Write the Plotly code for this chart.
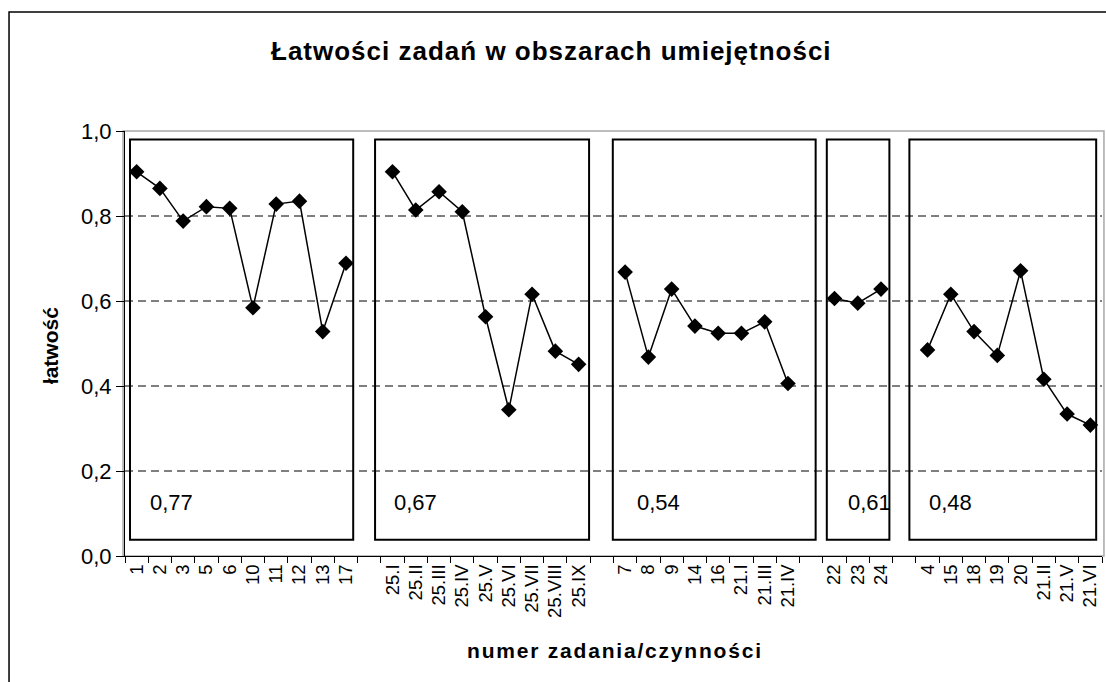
import plotly.graph_objects as go

# ---- data ----
group1_labels = ["1", "2", "3", "5", "6", "10", "11", "12", "13", "17"]
group1_values = [0.904, 0.865, 0.788, 0.822, 0.818, 0.584, 0.828, 0.835, 0.528, 0.689]

group2_labels = ["25.I", "25.II", "25.III", "25.IV", "25.V", "25.VI", "25.VII", "25.VIII", "25.IX"]
group2_values = [0.904, 0.814, 0.857, 0.810, 0.563, 0.344, 0.616, 0.482, 0.451]

group3_labels = ["7", "8", "9", "14", "16", "21.I", "21.III", "21.IV"]
group3_values = [0.668, 0.468, 0.628, 0.541, 0.524, 0.524, 0.551, 0.406]

group4_labels = ["22", "23", "24"]
group4_values = [0.606, 0.595, 0.628]

group5_labels = ["4", "15", "18", "19", "20", "21.II", "21.V", "21.VI"]
group5_values = [0.485, 0.616, 0.528, 0.472, 0.671, 0.416, 0.334, 0.308]

group_scores = [0.77, 0.67, 0.54, 0.61, 0.48]
grid_values = [0.2, 0.4, 0.6, 0.8]
y_ticks = [0.0, 0.2, 0.4, 0.6, 0.8, 1.0]

groups = [
    (group1_labels, group1_values),
    (group2_labels, group2_values),
    (group3_labels, group3_values),
    (group4_labels, group4_values),
    (group5_labels, group5_values),
]

# styling for the group frames (left/right padding in category units)
box_pads = [(0.285, 0.31), (0.75, 0.45), (0.53, 1.19), (0.33, 0.36), (0.78, 0.25)]
label_offsets = [0.78, 0.72, 0.96, 0.83, 0.75]

FONT = "Liberation Sans, Arial, sans-serif"

# build category axis with blank separator categories
xs, ys = [], []
spans = []
for gi, (labs, vals) in enumerate(groups):
    if gi > 0:
        xs.append(" " * gi)
        ys.append(None)
    start = len(xs)
    xs.extend(labs)
    ys.extend(vals)
    spans.append((start, len(xs) - 1))

fig = go.Figure()
fig.add_trace(go.Scatter(
    x=xs, y=ys, mode="lines+markers",
    connectgaps=False,
    line=dict(color="black", width=1.5),
    marker=dict(symbol="diamond", size=12, color="black"),
    showlegend=False, hoverinfo="skip",
))

shapes = []
# grid lines
for g in grid_values:
    shapes.append(dict(type="line", xref="paper", yref="y", x0=0, x1=1, y0=g, y1=g,
                       line=dict(color="black", width=1, dash="8px,5px"), layer="below"))
# gray plot-area border
shapes.append(dict(type="rect", xref="paper", yref="paper", x0=-0.002, x1=1.002, y0=0, y1=1,
                   line=dict(color="#a8a8a8", width=1.5), layer="below"))
# outer chart frame
shapes.append(dict(type="rect", xref="paper", yref="paper", x0=-0.1187, x1=1.2, y0=-0.6, y1=1.28,
                   line=dict(color="black", width=1.5), layer="below"))

annotations = []
for (s, e), (pl, pr), off, sc in zip(spans, box_pads, label_offsets, group_scores):
    x0 = s - pl
    x1 = e + pr
    shapes.append(dict(type="rect", xref="x", yref="y", x0=x0, x1=x1, y0=0.038, y1=0.98,
                       line=dict(color="black", width=2), fillcolor="rgba(0,0,0,0)", layer="above"))
    annotations.append(dict(x=x0 + off, y=0.125, xref="x", yref="y", xanchor="left", yanchor="middle",
                            text=("%.2f" % sc).replace(".", ","), showarrow=False,
                            font=dict(family=FONT, size=22, color="black")))

annotations.append(dict(x=0.437, y=1.188, xref="paper", yref="paper", xanchor="center", yanchor="middle",
                        text='<b><span style="letter-spacing:1px">Łatwości zadań w obszarach umiejętności</span></b>',
                        showarrow=False, font=dict(family=FONT, size=26, color="black")))
annotations.append(dict(x=-0.0768, y=0.496, xref="paper", yref="paper", xanchor="center", yanchor="middle",
                        text="<b>łatwość</b>", textangle=-90, showarrow=False,
                        font=dict(family=FONT, size=21, color="black")))
annotations.append(dict(x=0.5015, y=-0.2235, xref="paper", yref="paper", xanchor="center", yanchor="middle",
                        text='<b><span style="letter-spacing:1.8px">numer zadania/czynności</span></b>',
                        showarrow=False, font=dict(family=FONT, size=21, color="black")))

fig.update_layout(
    width=1106, height=682,
    margin=dict(l=125, r=4, t=131, b=126),
    paper_bgcolor="white", plot_bgcolor="white",
    separators=", ",
    shapes=shapes, annotations=annotations,
    xaxis=dict(
        type="category", categoryorder="array", categoryarray=xs,
        tickson="boundaries", ticks="outside", ticklen=6, tickcolor="black", tickwidth=1,
        tickangle=-90, tickfont=dict(family=FONT, size=18.5, color="black"),
        showgrid=False, zeroline=False, showline=True, linecolor="black", linewidth=1,
        range=[-0.5, len(xs) - 0.5], fixedrange=True,
    ),
    yaxis=dict(
        range=[0, 1], tickvals=y_ticks, tickformat=".1f",
        ticks="outside", ticklen=8, tickcolor="black", tickwidth=1,
        tickfont=dict(family=FONT, size=22, color="black"),
        showgrid=False, zeroline=False, showline=True, linecolor="black", linewidth=1,
        fixedrange=True,
    ),
)

fig.write_html("out.html", config={"displayModeBar": False},
               post_script="document.body.style.margin='0';document.body.style.overflow='hidden';")
